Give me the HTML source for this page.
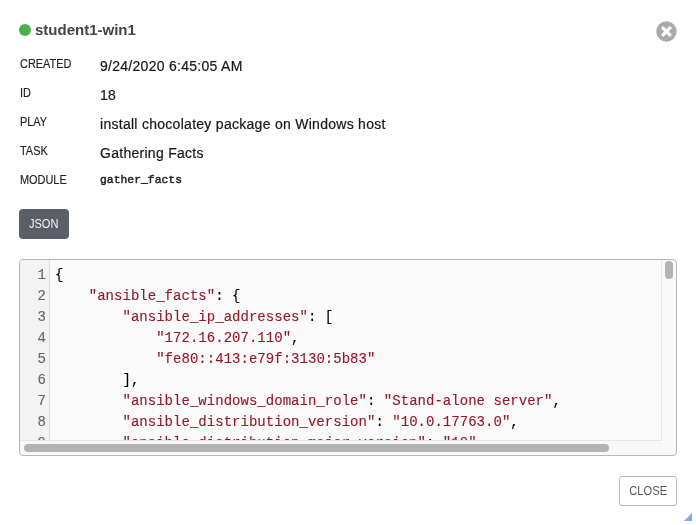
<!DOCTYPE html>
<html><head><meta charset="utf-8">
<style>
html,body{margin:0;padding:0;background:#fff;width:696px;height:525px;overflow:hidden;position:relative;font-family:"Liberation Sans",sans-serif;}
.abs{position:absolute;white-space:nowrap;}
.dot{left:19.2px;top:24.3px;width:12px;height:12px;border-radius:50%;background:#4caf50;}
.title{left:35px;top:21px;font-size:15px;font-weight:bold;color:#444;line-height:18px;}
.xbtn{left:656px;top:21px;width:22px;height:22px;}
.lbl{left:20px;font-size:12px;transform:scaleX(0.91);transform-origin:0 0;color:#222;-webkit-text-stroke:0.15px currentColor;line-height:14px;}
.val{left:100px;font-size:14px;letter-spacing:0.28px;color:#161616;-webkit-text-stroke:0.2px currentColor;line-height:16px;}
.mono{left:100px;font-family:"Liberation Mono",monospace;font-size:11.4px;font-weight:normal;-webkit-text-stroke:0.45px currentColor;color:#222;line-height:15px;}
.json{left:19px;top:209px;width:50px;height:30px;border-radius:4px;background:#5a5e66;color:#f4f4f4;font-size:12.5px;line-height:30px;text-align:center;}
.json span{display:inline-block;transform:scaleX(0.88);}
.editor{left:19px;top:259px;width:656px;height:195px;border:1px solid #b8b8b8;border-radius:4px;background:#f8f8f8;overflow:hidden;}
.gutter{position:absolute;left:0;top:0;width:29px;height:180px;background:#f3f3f3;border-right:1px solid #ddd;border-bottom:1px solid #e6e6e6;overflow:hidden;}
.content{position:absolute;left:30px;top:0;width:611px;height:180px;background:#fafafa;border-right:1px solid #e6e6e6;border-bottom:1px solid #e6e6e6;overflow:hidden;}
.code{position:absolute;left:5px;top:5px;letter-spacing:0.03px;-webkit-text-stroke:0.12px currentColor;font-family:"Liberation Mono",monospace;font-size:14px;line-height:21px;color:#000;white-space:pre;}
.ln{position:absolute;left:0;top:5px;-webkit-text-stroke:0.12px currentColor;width:26px;text-align:right;font-family:"Liberation Mono",monospace;font-size:14px;line-height:21px;color:#666;white-space:pre;}
.s{color:#961828;}
.hthumb{left:4px;top:184px;width:585px;height:8px;border-radius:4px;background:#b3b3b3;}
.vthumb{left:645px;top:1px;width:8px;height:18px;border-radius:4px;background:#b3b3b3;}
.close{left:619px;top:476px;width:56px;height:28px;border:1px solid #b7b7b7;border-radius:3px;background:#fff;color:#555;font-size:12.5px;line-height:29px;text-align:center;}
.close span{display:inline-block;transform:scaleX(0.89);}
.grip{left:684px;top:513px;width:8px;height:8px;}
</style></head><body><div style="position:absolute;left:0;top:0;width:696px;height:525px;will-change:transform;">
<div class="abs dot"></div>
<div class="abs title">student1-win1</div>
<svg class="abs xbtn" viewBox="0 0 22 22"><circle cx="10.45" cy="10.5" r="10.15" fill="#aaa"/><path d="M6.05 6.1L14.85 14.9M14.85 6.1L6.05 14.9" stroke="#fff" stroke-width="3.2"/></svg>

<div class="abs lbl" style="top:57px">CREATED</div>
<div class="abs val" style="top:58px">9/24/2020 6:45:05 AM</div>
<div class="abs lbl" style="top:86px">ID</div>
<div class="abs val" style="top:87px">18</div>
<div class="abs lbl" style="top:115px">PLAY</div>
<div class="abs val" style="top:116px">install chocolatey package on Windows host</div>
<div class="abs lbl" style="top:144px">TASK</div>
<div class="abs val" style="top:145px">Gathering Facts</div>
<div class="abs lbl" style="top:173px">MODULE</div>
<div class="abs mono" style="top:173px">gather_facts</div>

<div class="abs json"><span>JSON</span></div>

<div class="abs editor">
  <div class="gutter"><div class="ln">1
2
3
4
5
6
7
8
9</div></div>
  <div class="content"><div class="code">{
    <span class="s">"ansible_facts"</span>: {
        <span class="s">"ansible_ip_addresses"</span>: [
            <span class="s">"172.16.207.110"</span>,
            <span class="s">"fe80::413:e79f:3130:5b83"</span>
        ],
        <span class="s">"ansible_windows_domain_role"</span>: <span class="s">"Stand-alone server"</span>,
        <span class="s">"ansible_distribution_version"</span>: <span class="s">"10.0.17763.0"</span>,
        <span class="s">"ansible_distribution_major_version"</span>: <span class="s">"10"</span>,</div></div>
  <div class="abs hthumb"></div>
  <div class="abs vthumb"></div>
</div>

<div class="abs close"><span>CLOSE</span></div>
<svg class="abs grip" viewBox="0 0 8 8"><path d="M8 0L8 8L0 8Z" fill="#7aaee0"/></svg>
</div></body></html>
